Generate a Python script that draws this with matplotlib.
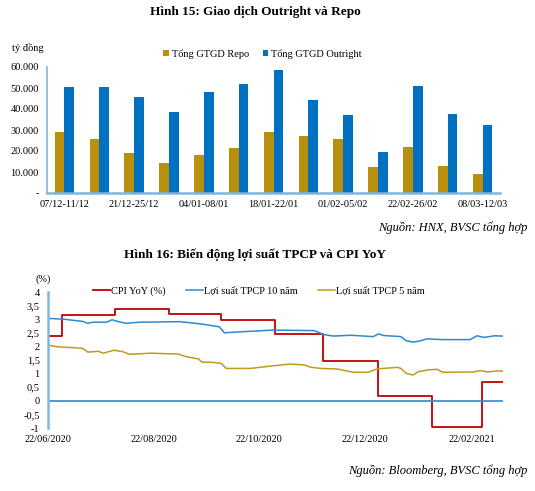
import matplotlib
matplotlib.use("Agg")
import matplotlib.pyplot as plt
import numpy as np
import pandas as pd

plt.rcParams['font.family'] = ['Liberation Serif', 'DejaVu Serif']

# Hinh 15 - weekly values (ty dong)
weeks = ["07/12-11/12", "14/12-18/12", "21/12-25/12", "28/12-31/12", "04/01-08/01",
         "11/01-15/01", "18/01-22/01", "25/01-29/01", "01/02-05/02", "15/02-19/02",
         "22/02-26/02", "01/03-05/03", "08/03-12/03"]
repo = [29100, 25500, 19100, 14100, 18300, 21200, 29200, 27000, 25700, 12500, 21700, 12900, 9200]
outright = [50600, 50600, 45800, 38600, 48000, 52000, 58500, 44500, 37000, 19300, 51000, 37700, 32400]

# Hinh 16 - CPI YoY (monthly steps) and bond yields
cpi_dates = ["2020-06-22", "2020-06-30", "2020-07-31", "2020-08-31", "2020-09-30", "2020-10-31",
             "2020-11-28", "2020-12-30", "2021-01-30", "2021-02-28", "2021-03-12"]
cpi_values = [2.40, 3.17, 3.39, 3.18, 2.98, 2.47, 1.48, 0.19, -0.97, 0.70, 0.70]

y10_dates = ["2020-06-22", "2020-07-01", "2020-07-12", "2020-07-15", "2020-07-18", "2020-07-26",
             "2020-07-29", "2020-08-01", "2020-08-06", "2020-08-14", "2020-09-06", "2020-09-12",
             "2020-09-18", "2020-09-29", "2020-10-02", "2020-10-07", "2020-10-30", "2020-11-23",
             "2020-11-26", "2020-11-28", "2020-12-04", "2020-12-14", "2020-12-27", "2020-12-30",
             "2021-01-02", "2021-01-12", "2021-01-15", "2021-01-19", "2021-01-23", "2021-01-27",
             "2021-02-04", "2021-02-21", "2021-02-25", "2021-03-01", "2021-03-07", "2021-03-12"]
y10_values = [3.03, 3.00, 2.92, 2.85, 2.89, 2.89, 2.98, 2.92, 2.85, 2.89, 2.91, 2.87,
              2.83, 2.72, 2.50, 2.52, 2.60, 2.58, 2.50, 2.44, 2.38, 2.41, 2.36, 2.46,
              2.40, 2.36, 2.21, 2.16, 2.20, 2.28, 2.25, 2.25, 2.39, 2.33, 2.39, 2.38]

y5_dates = ["2020-06-22", "2020-06-27", "2020-07-12", "2020-07-15", "2020-07-21", "2020-07-24",
            "2020-07-30", "2020-08-04", "2020-08-08", "2020-08-14", "2020-08-20", "2020-09-05",
            "2020-09-10", "2020-09-17", "2020-09-19", "2020-09-24", "2020-09-30", "2020-10-03",
            "2020-10-17", "2020-10-29", "2020-11-09", "2020-11-17", "2020-11-21", "2020-11-27",
            "2020-12-06", "2020-12-14", "2020-12-16", "2020-12-24", "2020-12-29", "2021-01-10",
            "2021-01-12", "2021-01-15", "2021-01-19", "2021-01-22", "2021-01-27", "2021-02-02",
            "2021-02-05", "2021-02-23", "2021-02-27", "2021-03-03", "2021-03-09", "2021-03-12"]
y5_values = [2.05, 1.99, 1.93, 1.79, 1.82, 1.75, 1.86, 1.81, 1.71, 1.73, 1.75, 1.72,
             1.62, 1.54, 1.42, 1.42, 1.38, 1.19, 1.19, 1.28, 1.35, 1.32, 1.23, 1.19,
             1.17, 1.07, 1.05, 1.05, 1.17, 1.23, 1.19, 1.01, 0.95, 1.07, 1.13, 1.16,
             1.05, 1.06, 1.11, 1.06, 1.10, 1.09]

date_ticks = ["2020-06-22", "2020-08-22", "2020-10-22", "2020-12-22", "2021-02-22"]

GOLD = "#B8900E"
BLUE = "#0070C0"
RED = "#C00000"
LINE_BLUE = "#2E8AD0"
LINE_GOLD = "#C49A1C"
AXIS = "#7DB6E3"

W, H = 535, 491
fig = plt.figure(figsize=(W / 100, H / 100), dpi=100)


def rect(x0, y0, x1, y1):
    return [x0 / W, 1 - y1 / H, (x1 - x0) / W, (y1 - y0) / H]


# ---------------- Hinh 15 ----------------
fig.text(255 / W, 1 - 12 / H, "Hình 15: Giao dịch Outright và Repo", ha='center', va='center',
         fontsize=9.5, fontweight='bold')
fig.text(12 / W, 1 - 48 / H, "tỷ đồng", ha='left', va='center', fontsize=7.5)

ax1 = fig.add_axes(rect(47, 67, 500, 193))
x = np.arange(len(weeks))
bw = 0.28
ax1.bar(x - bw / 2, repo, bw, color=GOLD, label="Tổng GTGD Repo")
ax1.bar(x + bw / 2, outright, bw, color=BLUE, label="Tổng GTGD Outright")
ax1.set_xlim(-0.5, len(weeks) - 0.5)
ax1.set_ylim(0, 60000)
yt = list(range(0, 60001, 10000))
ax1.set_yticks(yt)
ax1.set_yticklabels(['-' if v == 0 else f"{v:,}".replace(",", ".") for v in yt])
ax1.set_xticks(x[::2])
ax1.set_xticklabels(weeks[::2])
ax1.tick_params(length=0, labelsize=7.5, pad=6)
ax1.tick_params(axis='x', pad=5)
for s in ['top', 'right']:
    ax1.spines[s].set_visible(False)
ax1.spines['left'].set_color(AXIS)
ax1.spines['left'].set_linewidth(1.2)
ax1.spines['bottom'].set_color(AXIS)
ax1.spines['bottom'].set_linewidth(1.8)
ax1.legend(loc='center left', bbox_to_anchor=(163 / W, 1 - 54 / H), bbox_transform=fig.transFigure,
           ncol=2, frameon=False, fontsize=7.5, handlelength=0.55, handleheight=0.55,
           handletextpad=0.3, columnspacing=1.3, borderpad=0, borderaxespad=0)

fig.text(527 / W, 1 - 228 / H, "Nguồn: HNX, BVSC tổng hợp", ha='right', va='center',
         fontsize=9, style='italic')

# ---------------- Hinh 16 ----------------
fig.text(255 / W, 1 - 255 / H, "Hình 16: Biến động lợi suất TPCP và CPI YoY", ha='center',
         va='center', fontsize=9.5, fontweight='bold')
fig.text(35 / W, 1 - 279 / H, "(%)", ha='left', va='center', fontsize=7.5)

ax2 = fig.add_axes(rect(48, 292, 503, 428))
ax2.plot(pd.to_datetime(cpi_dates), cpi_values, drawstyle='steps-post', color=RED, lw=1.3,
         label="CPI YoY (%)")
ax2.plot(pd.to_datetime(y10_dates), y10_values, color=LINE_BLUE, lw=1.1,
         label="Lợi suất TPCP 10 năm")
ax2.plot(pd.to_datetime(y5_dates), y5_values, color=LINE_GOLD, lw=1.1,
         label="Lợi suất TPCP 5 năm")
ax2.axhline(0, color=LINE_BLUE, lw=1.2)
ax2.set_xlim(pd.Timestamp("2020-06-22"), pd.Timestamp("2021-03-12"))
ax2.set_ylim(-1, 4)
yv = np.arange(-1, 4.01, 0.5)
ax2.set_yticks(yv)
ax2.set_yticklabels([f"{v:g}".replace(".", ",") for v in yv])
ax2.set_xticks(pd.to_datetime(date_ticks))
ax2.set_xticklabels([pd.Timestamp(d).strftime("%d/%m/%Y") for d in date_ticks])
ax2.tick_params(length=0, labelsize=7.5, pad=6)
ax2.tick_params(axis='x', pad=5)
for s in ['top', 'right', 'bottom']:
    ax2.spines[s].set_visible(False)
ax2.spines['left'].set_color(AXIS)
ax2.spines['left'].set_linewidth(1.8)
ax2.legend(loc='center left', bbox_to_anchor=(93 / W, 1 - 291 / H), bbox_transform=fig.transFigure,
           ncol=3, frameon=False, fontsize=7.5, handlelength=1.6, handletextpad=0.1,
           columnspacing=2.0, borderpad=0, borderaxespad=0)

fig.text(527 / W, 1 - 471 / H, "Nguồn: Bloomberg, BVSC tổng hợp", ha='right', va='center',
         fontsize=9, style='italic')

fig.savefig("out.png", dpi=100)
